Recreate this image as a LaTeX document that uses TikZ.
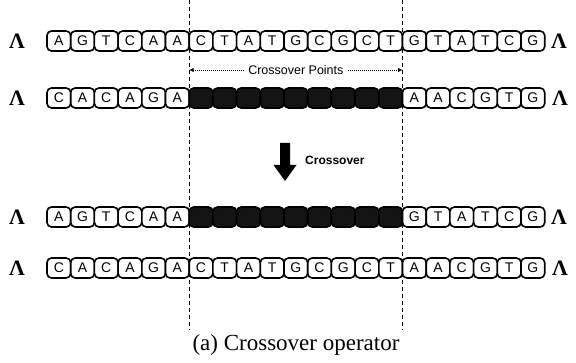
\documentclass[tikz,border=0pt]{standalone}
\usepackage{fontspec}
\setmainfont{Liberation Serif}
\setsansfont{Liberation Sans}
\usetikzlibrary{arrows.meta}
\begin{document}
\begin{tikzpicture}[x=1pt,y=-1pt,
  base/.style={draw=black, line width=1.6pt, rounded corners=4.5pt, minimum width=23.7pt,
    minimum height=20pt, inner sep=0pt, font=\sffamily\fontsize{14}{14}\selectfont},
  dark/.style={base, fill=black!92},
  lam/.style={font=\bfseries\fontsize{22}{22}\selectfont, inner sep=0pt},
  cut/.style={dash pattern=on 4pt off 3pt, line width=1pt},
  ptr/.style={dash pattern=on 1pt off 1pt, line width=0.8pt, -{Latex[length=4.5pt,width=4.5pt]}},
  lbl/.style={font=\sffamily\fontsize{12.5}{12.5}\selectfont, inner sep=4pt},
  op/.style={font=\sffamily\bfseries\fontsize{12}{12}\selectfont, inner sep=0pt, anchor=west},
  captext/.style={font=\fontsize{23}{23}\selectfont, inner sep=0pt}]
\useasboundingbox (0,0) rectangle (576,363);
\def\xa{47}\def\w{23.7}
% dashed cut lines
\coordinate (d1t) at ({\xa+6*\w},0);
\coordinate (d1b) at ({\xa+6*\w},330);
\coordinate (d2t) at ({\xa+15*\w},0);
\coordinate (d2b) at ({\xa+15*\w},330);
\draw[cut] (d1t) -- (d1b);
\draw[cut] (d2t) -- (d2b);
% row 1
\node[lam] (l1) at (17,41) {Λ};
\foreach \l [count=\i] in {A,G,T,C,A,A,C,T,A,T,G,C,G,C,T,G,T,A,T,C,G}
  \node[base, fill=white] (r1b\i) at ({\xa+\w*(\i-0.5)},41) {\l};
\node[lam] (r1) at (559,41) {Λ};
% row 2
\node[lam] (l2) at (17,98) {Λ};
\foreach \l [count=\i] in {C,A,C,A,G,A}
  \node[base, fill=white] (r2b\i) at ({\xa+\w*(\i-0.5)},98) {\l};
\foreach \i in {7,...,15}
  \node[dark] (r2b\i) at ({\xa+\w*(\i-0.5)},98) {};
\foreach \l [count=\i from 16] in {A,A,C,G,T,G}
  \node[base, fill=white] (r2b\i) at ({\xa+\w*(\i-0.5)},98) {\l};
\node[lam] (r2) at (560,98) {Λ};
% crossover points label
\node[lbl] (cp) at ({\xa+10.5*\w},70) {Crossover Points};
\draw[ptr] (cp.west) -- (cp.west -| d1t);
\draw[ptr] (cp.east) -- (cp.east -| d2t);
% big arrow
\coordinate (ac) at (285,0);
\fill ([xshift=-5pt]ac |- 0,143) -- ([xshift=5pt]ac |- 0,143) -- ([xshift=5pt]ac |- 0,165)
  -- ([xshift=11.5pt]ac |- 0,165) -- (ac |- 0,181) -- ([xshift=-11.5pt]ac |- 0,165)
  -- ([xshift=-5pt]ac |- 0,165) -- cycle;
\node[op] (co) at (305,160) {Crossover};
% row 3
\node[lam] (l3) at (17,217) {Λ};
\foreach \l [count=\i] in {A,G,T,C,A,A}
  \node[base, fill=white] (r3b\i) at ({\xa+\w*(\i-0.5)},217) {\l};
\foreach \i in {7,...,15}
  \node[dark] (r3b\i) at ({\xa+\w*(\i-0.5)},217) {};
\foreach \l [count=\i from 16] in {G,T,A,T,C,G}
  \node[base, fill=white] (r3b\i) at ({\xa+\w*(\i-0.5)},217) {\l};
\node[lam] (r3) at (559,217) {Λ};
% row 4
\node[lam] (l4) at (17,268) {Λ};
\foreach \l [count=\i] in {C,A,C,A,G,A,C,T,A,T,G,C,G,C,T,A,A,C,G,T,G}
  \node[base, fill=white] (r4b\i) at ({\xa+\w*(\i-0.5)},268) {\l};
\node[lam] (r4) at (560,268) {Λ};
% caption
\node[captext] (caption) at (296,345) {(a) Crossover operator};
\end{tikzpicture}
\end{document}
